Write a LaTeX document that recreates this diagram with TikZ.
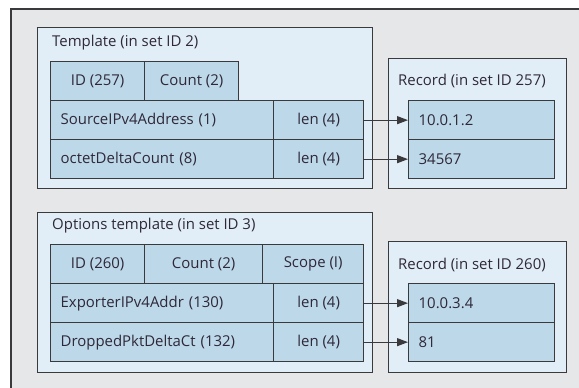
\documentclass[tikz,border=0pt]{standalone}
\usepackage{fontspec}
\setmainfont{Open Sans}
\usetikzlibrary{arrows.meta, positioning}
\definecolor{pagegray}{HTML}{E6E7E9}
\definecolor{panelblue}{HTML}{E2EEF7}
\definecolor{cellblue}{HTML}{BDD8E9}
\definecolor{boxline}{HTML}{3A3A3C}
\definecolor{labeltext}{HTML}{2E2838}
\newcommand{\lblfont}{\fontsize{15}{17}\selectfont}
\tikzset{
  panel/.style={draw=boxline, fill=panelblue, line width=1.3pt, anchor=north west, inner sep=0pt},
  cell/.style={draw=boxline, fill=cellblue, line width=1.3pt, anchor=north west,
    minimum height=39bp, inner sep=0pt, text=labeltext, font=\lblfont},
  ccell/.style={cell, minimum width=#1},
  lcell/.style={cell, text width=#1, inner xsep=10bp, align=left},
  paneltitle/.style={anchor=west, inner sep=0pt, text=labeltext, font=\lblfont},
  link/.style={-{Triangle[length=11bp,width=8bp]}, line width=1.3pt, draw=boxline}
}
\begin{document}
\begin{tikzpicture}[x=1bp, y=-1bp]
  \useasboundingbox (0,0) rectangle (579,387);
  \clip (0,0) rectangle (579,387);
  % page background
  \draw[fill=pagegray, draw=boxline, line width=1.3pt] (11,9) rectangle (600,420);

  % Template (set ID 2)
  \node[panel, minimum width=335bp, minimum height=161bp] (tmpl) at (37,27) {};
  \node[paneltitle] (tmpltitle) at (52,43) {Template (in set ID 2)};
  \node[ccell=94bp] (tid) at (50,61) {ID (257)};
  \node[ccell=94bp] (tcount) at (144,61) {Count (2)};
  \node[lcell=203bp] (tsrc) at (50,100) {SourceIPv4Address (1)};
  \node[ccell=90bp] (tsrclen) at (273,100) {len (4)};
  \node[lcell=203bp] (toct) at (50,139) {octetDeltaCount (8)};
  \node[ccell=90bp] (toctlen) at (273,139) {len (4)};

  % Record (set ID 257)
  \node[panel, minimum width=178bp, minimum height=130bp] (rec1) at (388,58) {};
  \node[paneltitle] (rec1title) at (398,81) {Record (in set ID 257)};
  \node[lcell=126bp] (rsrc) at (408,100) {10.0.1.2};
  \node[lcell=126bp] (roct) at (408,139) {34567};

  % Options template (set ID 3)
  \node[panel, minimum width=335bp, minimum height=160bp] (opts) at (37,212) {};
  \node[paneltitle] (optstitle) at (52,226) {Options template (in set ID 3)};
  \node[ccell=94bp] (oid) at (50,244) {ID (260)};
  \node[ccell=118bp] (ocount) at (144,244) {Count (2)};
  \node[ccell=101bp] (oscope) at (262,244) {Scope (I)};
  \node[lcell=203bp] (oexp) at (50,283) {ExporterIPv4Addr (130)};
  \node[ccell=90bp] (oexplen) at (273,283) {len (4)};
  \node[lcell=203bp] (odrop) at (50,322) {DroppedPktDeltaCt (132)};
  \node[ccell=90bp] (odroplen) at (273,322) {len (4)};

  % Record (set ID 260)
  \node[panel, minimum width=178bp, minimum height=131bp] (rec2) at (388,241) {};
  \node[paneltitle] (rec2title) at (398,265) {Record (in set ID 260)};
  \node[lcell=126bp] (rexp) at (408,283) {10.0.3.4};
  \node[lcell=126bp] (rdrop) at (408,322) {81};

  % field -> value
  \draw[link] (tsrclen.east) -- (rsrc.west);
  \draw[link] (toctlen.east) -- (roct.west);
  \draw[link] (oexplen.east) -- (rexp.west);
  \draw[link] (odroplen.east) -- (rdrop.west);
\end{tikzpicture}
\end{document}
